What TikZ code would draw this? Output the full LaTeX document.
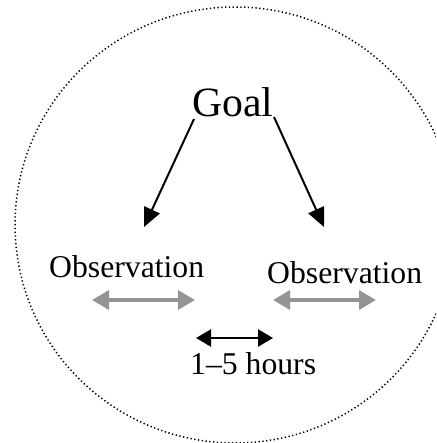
\documentclass[tikz,border=0pt]{standalone}
\usepackage{fontspec}
\setmainfont{Liberation Serif}
\usetikzlibrary{arrows.meta}
\begin{document}
\begin{tikzpicture}[x=1pt,y=-1pt,
  lbl/.style={inner sep=0pt,anchor=base west,font=\fontsize{31.7}{38}\selectfont},
  goallbl/.style={inner sep=0pt,anchor=base west,font=\fontsize{41.7}{50}\selectfont},
  blackarrow/.style={line width=2pt,-{Triangle[length=19pt,width=17pt]}},
  grayarrow/.style={line width=3.4pt,color=black!42,{Triangle[length=17pt,width=19pt]}-{Triangle[length=17pt,width=19pt]}},
  spanarrow/.style={line width=2.4pt,{Triangle[length=15pt,width=17pt]}-{Triangle[length=15pt,width=17pt]}},
  boundary/.style={line width=1.5pt,dash pattern=on 1.3pt off 2.5pt}]
\useasboundingbox (0,0) rectangle (436,443);
\clip (0,0) rectangle (436,443);
\fill[white] (0,0) rectangle (436,443);
\draw[boundary] (235,225) ellipse [x radius=220, y radius=218];
\node[goallbl] (goal) at (192,117) {Goal};
\node[lbl] (obsl) at (49,277) {Observation};
\node[lbl] (obsr) at (267,283) {Observation};
\node[lbl] (hours) at (190,374) {1–5 hours};
\coordinate (gl) at (194,119);
\coordinate (gr) at (274,117);
\coordinate (tl) at (144,227);
\coordinate (tr) at (324,227);
\draw[blackarrow] (gl) -- (tl);
\draw[blackarrow] (gr) -- (tr);
\coordinate (al1) at (92,300);
\coordinate (al2) at (195,300);
\coordinate (ar1) at (273,300);
\coordinate (ar2) at (376,300);
\draw[grayarrow] (al1) -- (al2);
\draw[grayarrow] (ar1) -- (ar2);
\coordinate (s1) at (196,338);
\coordinate (s2) at (273,338);
\draw[spanarrow] (s1) -- (s2);
\end{tikzpicture}
\end{document}
